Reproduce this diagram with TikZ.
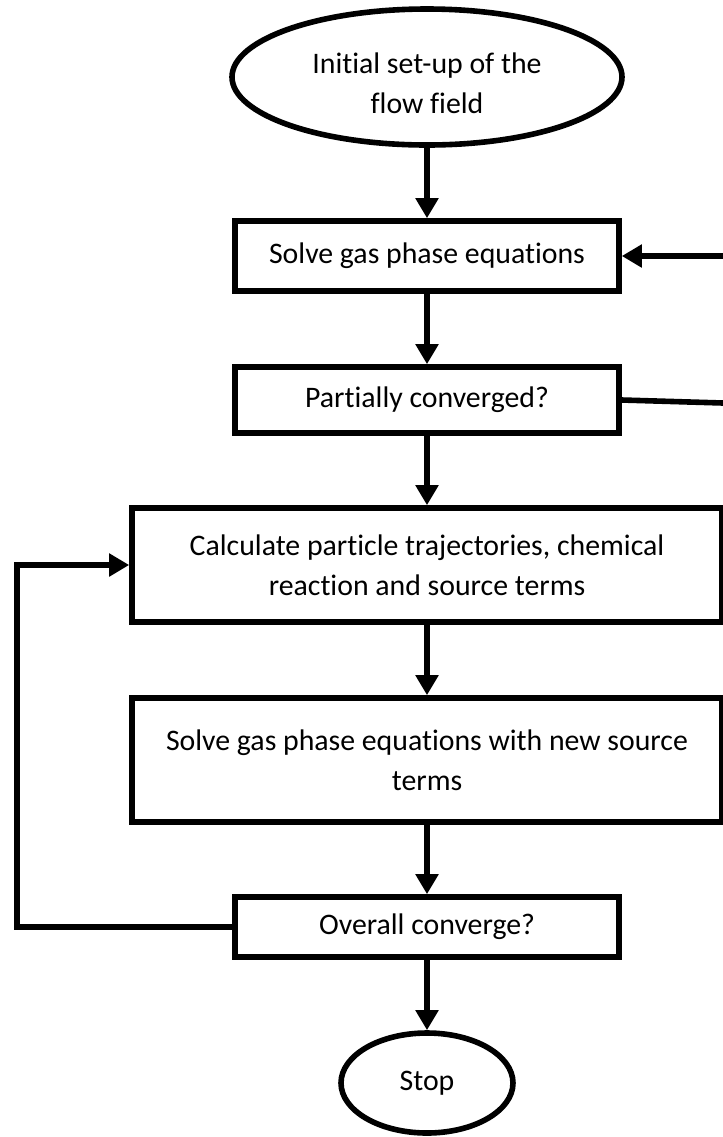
\documentclass[tikz,border=0pt]{standalone}
\usepackage{fontspec}
\setmainfont{Carlito}[Ligatures=NoCommon]
\usetikzlibrary{shapes.geometric,arrows.meta}
\begin{document}
\begin{tikzpicture}[x=0.5pt,y=-0.5pt]
            \tikzstyle{every node} = [font=\fontsize{14.9}{20}\selectfont]
            \tikzstyle{terminal} = [draw, ellipse, line width=2.8pt, align=center, inner sep=0pt]
            \tikzstyle{process} = [draw, rectangle, line width=2.8pt, align=center, inner sep=0pt]
            \tikzstyle{flow} = [line width=2.8pt, -{Triangle[length=10pt,width=11pt]}]
            \tikzstyle{plain} = [line width=2.8pt]

            \useasboundingbox (0,0) rectangle (723,1137);

            \node [terminal, minimum width=195pt, minimum height=68pt] (init) at (427,77) {\rule{0pt}{17pt}Initial set-up of the\\flow field};
            \node [process, minimum width=192pt, minimum height=35pt] (gas) at (427,256) {Solve gas phase equations};
            \node [process, minimum width=192pt, minimum height=33pt] (part) at (427,400) {Partially converged?};
            \node [process, minimum width=295pt, minimum height=57pt] (calc) at (427,565) {Calculate particle trajectories, chemical\\reaction and source terms};
            \node [process, minimum width=295pt, minimum height=62pt] (newsrc) at (427,760) {Solve gas phase equations with new source\\terms};
            \node [process, minimum width=192pt, minimum height=30pt] (overall) at (427,927) {Overall converge?};
            \node [terminal, minimum width=86pt, minimum height=50pt] (stop) at (427,1083) {Stop};

            \coordinate (rtop) at (723,256);
            \coordinate (rmid) at (723,403);
            \coordinate (lbot) at (17,927);

            % main chain
            \draw [flow] (init) -- (gas);
            \draw [flow] (gas) -- (part);
            \draw [flow] (part) -- (calc);
            \draw [flow] (calc) -- (newsrc);
            \draw [flow] (newsrc) -- (overall);
            \draw [flow] (overall) -- (stop);

            % loops
            \draw [plain] (part.east) -- (rmid);
            \draw [flow] (rtop) -- (gas.east);
            \draw [flow] (overall.west) -- (lbot) |- (calc.west);
        \end{tikzpicture}
\end{document}
